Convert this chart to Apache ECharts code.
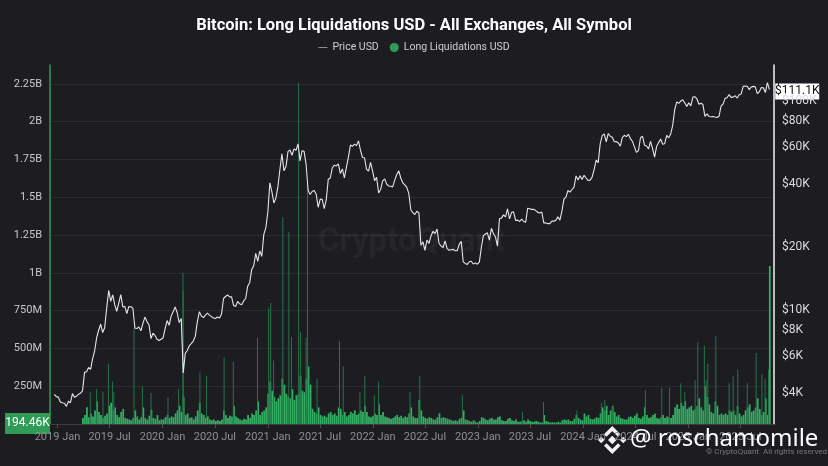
<!DOCTYPE html>
<html>
<head>
<meta charset="utf-8">
<script src="https://cdn.jsdelivr.net/npm/echarts@6/dist/echarts.min.js"></script>
<style>
  html, body { margin: 0; padding: 0; background: #1c1c21; }
  #chart { width: 828px; height: 466px; }
</style>
</head>
<body>
<div id="chart"></div>
<script>
// weekly samples (Fridays) starting 2018-12-21, BTC price in USD
var price2018 = [3950, 3850];
var price2019 = [3830, 3630, 3600, 3580,
  3460, 3660, 3600, 3980,
  3820, 3870, 3950, 4000, 4100,
  5030, 5070, 5310, 5200,
  5830, 6350, 7350, 8000, 8550,
  7800, 8230, 10200, 12400,
  11000, 11800, 10600, 9850,
  10800, 11850, 10350, 10400, 9600,
  10400, 10360, 10200, 8200,
  8150, 8300, 7950, 8650,
  9250, 8800, 8500, 7300, 7750,
  7550, 7250, 7150, 7250];
var price2020 = [7350, 8150, 8900, 8450, 9350,
  9800, 10350, 9700, 8700,
  9100, 5000, 6200, 6400,
  6750, 6900, 7100, 7500,
  8800, 9800, 9350, 9200, 9450,
  9650, 9450, 9300, 9150,
  9100, 9250, 9150, 9550, 11350,
  11600, 11800, 11550, 11550,
  10500, 10400, 11000, 10700,
  10600, 11050, 11350, 13000, 13550,
  15600, 16300, 18650, 17100,
  19150, 18050, 23000, 24700];
var price2021 = [29400, 40600, 36800, 32500, 34300,
  38900, 47100, 55900, 46300,
  48400, 57200, 58300, 55000,
  59000, 58100, 62300, 51700, 57800,
  57400, 49700, 37300, 35700,
  36900, 37300, 35800, 31000,
  33900, 33800, 30500, 33600, 42200,
  42800, 47800, 49300, 48900,
  50000, 44900, 47300, 42800,
  48100, 53900, 61500, 60700, 62200,
  61100, 64400, 58100, 53600,
  53500, 47100, 46200, 50800, 46300];
var price2022 = [41500, 43100, 36300, 37700,
  41500, 42400, 40000, 39200,
  39100, 38800, 41800, 44500,
  46300, 42800, 40600, 39700, 38600,
  36000, 30100, 29200, 28600,
  29700, 29100, 20400, 21200,
  19300, 21600, 20800, 22600, 23800,
  23200, 24400, 20800, 20200,
  19900, 21400, 19700, 19300, 19400,
  19500, 19200, 19200, 20600,
  21300, 17000, 16700, 16500,
  17000, 17100, 16600, 16800, 16550];
var price2023 = [16950, 19900, 22700, 23100,
  23400, 21600, 24600, 23200,
  22350, 20200, 27400, 27500, 28500,
  27900, 30500, 27300, 29300,
  29500, 26800, 26900, 26500,
  27200, 26500, 26300, 30700, 30500,
  30300, 30300, 29900, 29300,
  29100, 29400, 26100, 26100,
  25900, 25900, 26600, 26600, 26900,
  27900, 26900, 29700, 33900,
  34700, 37300, 36600, 37700,
  38700, 43800, 41900, 43900, 42100];
var price2024 = [44100, 42800, 41600, 41800,
  43200, 47100, 52100, 50700,
  62400, 68300, 69500, 63800, 69900,
  67800, 67100, 63800, 64000,
  62900, 60800, 67000, 68500, 67500,
  69300, 66000, 64100, 60300,
  56700, 57900, 66700, 67900,
  61400, 60900, 59000, 64100, 59100,
  53900, 60500, 63200, 65800,
  62100, 62400, 68400, 66600,
  69500, 76500, 91100, 98900, 97400,
  99900, 101400, 97800, 94200];
var price2025 = [98100, 94700, 104400, 104800, 102400,
  96500, 97500, 96100, 84400,
  86700, 84300, 84100, 84300,
  83800, 83400, 84400, 94600,
  96500, 102900, 103500, 107300, 104000,
  104300, 105900, 103300, 107100,
  108000, 117500, 117900, 117600,
  113300, 116700, 117400, 116900, 108400,
  110700, 116000, 115700, 109700,
  122300, 113200];
var lastDay = '2025-10-11';
var lastPrice = 111100;

// weekly typical long liquidations, millions USD (same weekly dates)
var liq2018 = [null, null];
var liq2019 = [null, null, null, null,
  null, null, null, null,
  null, null, null, null, 40,
  60, 110, 45, 70,
  50, 90, 150, 80, 60,
  40, 55, 70, 120,
  140, 90, 110, 60,
  45, 80, 100, 40, 35,
  30, 25, 40, 90,
  50, 30, 45, 110,
  40, 30, 55, 95, 40,
  35, 60, 25, 30];
var liq2020 = [30, 45, 60, 40, 50,
  45, 70, 90, 120,
  80, 180, 60, 70,
  40, 45, 30, 50,
  90, 140, 70, 60, 40,
  50, 30, 25, 30,
  20, 25, 20, 30, 90,
  60, 40, 55, 50,
  120, 50, 40, 30,
  25, 35, 30, 60, 40,
  70, 60, 90, 150,
  60, 80, 90, 110];
var liq2021 = [200, 280, 220, 180, 150,
  170, 190, 300, 260,
  200, 180, 170, 230,
  160, 190, 200, 320, 220,
  210, 300, 380, 260,
  100, 80, 70, 110,
  60, 50, 55, 45, 70,
  80, 60, 70, 55,
  110, 100, 60, 80,
  50, 60, 80, 70, 90,
  60, 70, 90, 80,
  120, 80, 50, 45, 55];
var liq2022 = [70, 60, 130, 60,
  80, 50, 45, 40,
  35, 40, 50, 60,
  45, 55, 40, 50, 45,
  70, 110, 50, 40,
  40, 160, 90, 50,
  40, 35, 45, 40, 30,
  30, 45, 70, 40,
  45, 40, 35, 30, 25,
  20, 25, 20, 35,
  40, 90, 30, 25,
  20, 15, 25, 15, 10];
var liq2023 = [20, 45, 40, 30,
  25, 35, 40, 30,
  30, 45, 50, 25, 20,
  20, 35, 40, 25,
  20, 30, 15, 15,
  20, 25, 15, 30, 20,
  15, 15, 20, 15,
  10, 10, 60, 20,
  15, 10, 12, 10, 10,
  15, 10, 25, 30,
  25, 30, 20, 20,
  35, 60, 40, 30, 25];
var liq2024 = [70, 50, 60, 35,
  30, 35, 45, 40,
  70, 110, 90, 120, 60,
  90, 120, 80, 50,
  60, 40, 35, 30, 30,
  45, 50, 40, 55,
  70, 40, 35, 50,
  110, 60, 40, 45, 60,
  70, 40, 35, 45,
  60, 40, 50, 45,
  40, 60, 110, 130, 100,
  140, 120, 150, 100];
var liq2025 = [110, 120, 90, 100, 120,
  170, 110, 90, 250,
  180, 130, 80, 70,
  150, 120, 60, 70,
  60, 70, 60, 90, 80,
  90, 60, 120, 70,
  50, 60, 90, 110,
  130, 80, 90, 110, 170,
  100, 60, 80, 170,
  60, 1045];
var lastLiq = 0.19446;

// single-day liquidation spikes, millions USD
var spikeDays = ['2019-04-25', '2019-05-17', '2019-06-08', '2019-06-27', '2019-07-11', '2019-07-16',
  '2019-09-24', '2019-10-23', '2019-11-22', '2020-01-20', '2020-02-26', '2020-03-12', '2020-03-13',
  '2020-05-10', '2020-06-02', '2020-08-02', '2020-09-03', '2020-11-26', '2021-01-04', '2021-01-11',
  '2021-01-21', '2021-02-22', '2021-03-15', '2021-03-24', '2021-04-18', '2021-04-25', '2021-05-14',
  '2021-05-19', '2021-06-21', '2021-09-07', '2021-09-20', '2021-11-17', '2021-12-04', '2022-01-06',
  '2022-01-21', '2022-05-10', '2022-06-13', '2022-11-08', '2023-06-05', '2023-08-17', '2023-12-11',
  '2024-03-05', '2024-03-17', '2024-04-13', '2024-08-05', '2024-10-01', '2024-10-28', '2024-12-06',
  '2024-12-20', '2025-01-25', '2025-02-03', '2025-02-26', '2025-03-04', '2025-03-10', '2025-04-07',
  '2025-05-23', '2025-06-06', '2025-06-22', '2025-07-25', '2025-08-25', '2025-09-14', '2025-09-25',
  '2025-10-07'];
var spikeValues = [210, 230, 215, 400, 280, 210,
  635, 250, 205, 175, 230, 1000, 880,
  340, 320, 440, 410, 570, 770, 800,
  420, 1370, 1270, 575, 2260, 610, 570,
  1580, 300, 550, 380, 210, 320, 190,
  280, 210, 320, 190, 80, 145, 90,
  140, 160, 115, 225, 240, 240, 270,
  210, 290, 540, 520, 290, 400, 580,
  270, 320, 360, 270, 470, 330, 300,
  360];

var xTicks = ['2019-01-01', '2019-07-01', '2020-01-01', '2020-07-01', '2021-01-01', '2021-07-01',
  '2022-01-01', '2022-07-01', '2023-01-01', '2023-07-01', '2024-01-01', '2024-07-01',
  '2025-01-01', '2025-07-01'];
var liqTicks = [0, 250e6, 500e6, 750e6, 1e9, 1.25e9, 1.5e9, 1.75e9, 2e9, 2.25e9];
var priceTicks = [4000, 6000, 8000, 10000, 20000, 40000, 60000, 80000, 100000];

function day(s) {
  var p = s.split('-');
  return new Date(+p[0], +p[1] - 1, +p[2]).getTime();
}
function week(i) {
  return new Date(2018, 11, 21 + 7 * i).getTime();
}

var priceAll = [].concat(price2018, price2019, price2020, price2021, price2022, price2023, price2024, price2025);
var liqAll = [].concat(liq2018, liq2019, liq2020, liq2021, liq2022, liq2023, liq2024, liq2025);

var priceData = priceAll.map(function (v, i) { return [week(i), v]; });
priceData.push([day(lastDay), lastPrice]);

var liqData = [];
liqAll.forEach(function (v, i) {
  if (v != null) liqData.push([week(i), v * 1e6]);
});
liqData.push([day(lastDay), lastLiq * 1e6]);

var spikeData = spikeDays.map(function (d, i) { return [day(d), spikeValues[i] * 1e6]; });

var MONTHS = ['Jan', 'Feb', 'Mar', 'Apr', 'May', 'Jun', 'Jul', 'Aug', 'Sep', 'Oct', 'Nov', 'Dec'];
var font = 'Roboto';

var chart = echarts.init(document.getElementById('chart'));

chart.setOption({
  backgroundColor: '#1c1c21',
  textStyle: { fontFamily: font },
  title: {
    text: 'Bitcoin: Long Liquidations USD - All Exchanges, All Symbol',
    left: 'center',
    top: 12,
    textStyle: { color: '#ffffff', fontSize: 16.5, fontWeight: 'bold', fontFamily: font }
  },
  legend: {
    top: 37,
    left: 'center',
    itemWidth: 9,
    itemHeight: 10,
    itemGap: 11,
    textStyle: { color: '#cfcfd3', fontSize: 10.5, fontFamily: font },
    data: [
      { name: 'Price USD', icon: 'path://M0 4.5h10v1H0z', itemStyle: { color: '#9a9a9f' } },
      { name: 'Long Liquidations USD', icon: 'circle', itemStyle: { color: '#2f9b57' } }
    ]
  },
  grid: { left: 50, right: 54, top: 65, bottom: 42 },
  xAxis: {
    // timestamps on a plain value axis so the half-year ticks can be placed exactly
    type: 'value',
    min: day('2018-12-06'),
    max: day('2025-10-26'),
    axisLine: { show: true, onZero: false, lineStyle: { color: '#3a3b41' } },
    axisTick: { show: true, customValues: xTicks.map(day), length: 4, lineStyle: { color: '#505157' } },
    axisLabel: {
      customValues: xTicks.map(day),
      color: '#8e8f95',
      fontSize: 11,
      margin: 8,
      formatter: function (v) {
        var d = new Date(v);
        return d.getFullYear() + ' ' + MONTHS[d.getMonth()];
      }
    },
    splitLine: { show: false }
  },
  yAxis: [{
    type: 'value',
    position: 'left',
    min: 0,
    max: 2.375e9,
    axisLine: { show: true, lineStyle: { color: '#2f9b57', width: 1.5 } },
    axisTick: { show: false, customValues: liqTicks },
    axisLabel: {
      customValues: liqTicks,
      color: '#c9c9cd',
      fontSize: 11,
      margin: 8,
      formatter: function (v) {
        if (v === 0) return '';
        return v >= 1e9 ? (v / 1e9) + 'B' : (v / 1e6) + 'M';
      }
    },
    splitLine: { show: true, lineStyle: { color: '#2a2b31', width: 1 } }
  }, {
    type: 'log',
    logBase: 10,
    position: 'right',
    min: 2848,
    max: 148600,
    axisLine: { show: true, lineStyle: { color: '#f2f2f2', width: 1.5 } },
    axisTick: { show: false },
    axisLabel: {
      customValues: priceTicks,
      color: '#dcdcdf',
      fontSize: 12,
      margin: 8,
      formatter: function (v) { return '$' + Math.round(v / 1000) + 'K'; }
    },
    splitLine: { show: false }
  }],
  series: [{
    name: 'Long Liquidations USD',
    type: 'bar',
    yAxisIndex: 0,
    data: liqData,
    barWidth: 1.8,
    itemStyle: { color: '#33ad62' },
    silent: true
  }, {
    name: 'Long Liquidations USD',
    type: 'bar',
    yAxisIndex: 0,
    data: spikeData,
    barWidth: 1,
    barGap: '-100%',
    itemStyle: { color: '#267548' },
    silent: true
  }, {
    name: 'Price USD',
    type: 'line',
    yAxisIndex: 1,
    data: priceData,
    showSymbol: false,
    z: 5,
    lineStyle: { color: '#e6e6e8', width: 1.1 },
    itemStyle: { color: '#e6e6e8' },
    silent: true
  }]
});

// value tags on both axes and overlays
var priceY = chart.convertToPixel({ yAxisIndex: 1 }, lastPrice);
var liqY = chart.convertToPixel({ yAxisIndex: 0 }, lastLiq * 1e6);
var W = '#f2f2f2';

chart.setOption({
  graphic: [
    {
      type: 'text', left: 318, top: 226, z: 0, silent: true,
      style: { text: 'CryptoQuant', fontSize: 33, fontWeight: 'bold', fontFamily: font, fill: 'rgba(255,255,255,0.045)' }
    },
    {
      type: 'group', left: 775, top: priceY - 8, z: 50,
      children: [
        { type: 'rect', shape: { x: 0, y: 0, width: 44, height: 16 }, style: { fill: '#ffffff' } },
        { type: 'text', x: 22, y: 8, style: { text: '$' + (lastPrice / 1000).toFixed(1) + 'K', fill: '#111', fontSize: 12, fontFamily: font, align: 'center', verticalAlign: 'middle' } }
      ]
    },
    {
      type: 'group', left: 5, top: liqY - 11, z: 50,
      children: [
        { type: 'rect', shape: { x: 0, y: 0, width: 45, height: 21 }, style: { fill: '#2f9b57' } },
        { type: 'text', x: 22.5, y: 10.5, style: { text: (lastLiq * 1000).toFixed(2) + 'K', fill: '#ffffff', fontSize: 12, fontFamily: font, align: 'center', verticalAlign: 'middle' } }
      ]
    },
    {
      type: 'text', left: 706, top: 448, z: 50,
      style: { text: '© CryptoQuant. All rights reserved', fontSize: 8, fill: '#77787d', fontFamily: font }
    },
    {
      // share-card logo
      type: 'group', left: 598, top: 426, z: 60,
      children: [
        { type: 'rect', x: 15, y: 14.5, rotation: Math.PI / 4, shape: { x: -3, y: -3, width: 6, height: 6 }, style: { fill: W } },
        { type: 'rect', x: 4, y: 14.5, rotation: Math.PI / 4, shape: { x: -2.3, y: -2.3, width: 4.6, height: 4.6 }, style: { fill: W } },
        { type: 'rect', x: 26, y: 14.5, rotation: Math.PI / 4, shape: { x: -2.3, y: -2.3, width: 4.6, height: 4.6 }, style: { fill: W } },
        { type: 'polyline', shape: { points: [[8, 10], [15, 3], [22, 10]] }, style: { fill: 'none', stroke: W, lineWidth: 3.6 } },
        { type: 'polyline', shape: { points: [[8, 19], [15, 26], [22, 19]] }, style: { fill: 'none', stroke: W, lineWidth: 3.6 } }
      ]
    },
    {
      type: 'text', left: 630, top: 427, z: 60,
      style: { text: '@ roschamomile', fontSize: 24, fill: '#ffffff', fontFamily: 'Noto Sans' }
    }
  ]
});
</script>
</body>
</html>
